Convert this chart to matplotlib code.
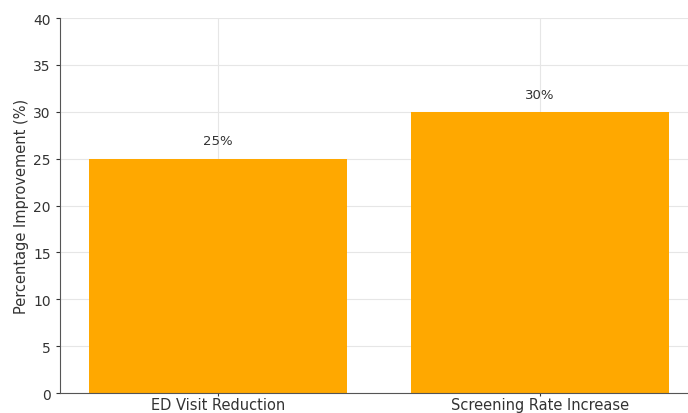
import matplotlib.pyplot as plt

categories = ['ED Visit Reduction', 'Screening Rate Increase']
values = [25, 30]
labels = ['25%', '30%']

fig = plt.figure(figsize=(6.88, 4.14), dpi=100)
ax = fig.add_axes([0.087, 0.048, 0.913, 0.906])

bars = ax.bar(categories, values, color='#FFA800', width=0.8, zorder=2)

# value labels above the bars
for bar, text in zip(bars, labels):
    ax.text(bar.get_x() + bar.get_width() / 2, bar.get_height() + 1.2, text,
            ha='center', va='bottom', fontsize=9.5, color='#333333')

ax.set_ylim(0, 40)
ax.set_xlim(-0.49, 1.46)
ax.set_ylabel('Percentage Improvement (%)', fontsize=10.5, color='#333333', labelpad=3)
ax.tick_params(axis='y', labelsize=10, colors='#333333', length=3)
ax.tick_params(axis='x', labelsize=10.5, colors='#333333', length=2, pad=0.5)
ax.grid(True, color='#e6e6e6', linewidth=0.8, zorder=0)
ax.spines['top'].set_visible(False)
ax.spines['right'].set_visible(False)
ax.spines['left'].set_color('#555555')
ax.spines['bottom'].set_color('#555555')

fig.savefig('out.png')
